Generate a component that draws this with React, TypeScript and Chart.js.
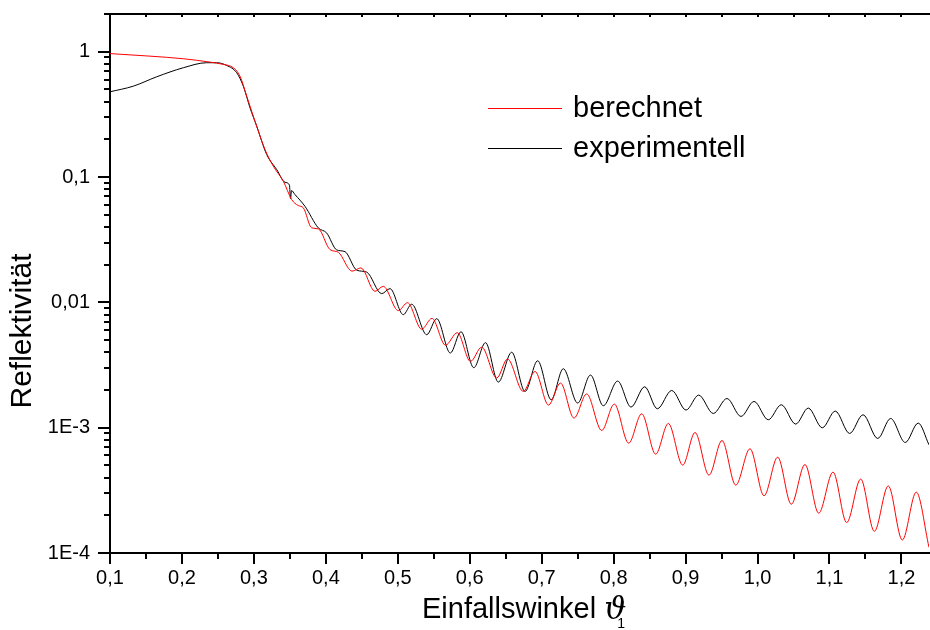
import React, { useEffect, useRef } from "react";
import { Chart, registerables } from "chart.js";
Chart.register(...registerables);

// ---- data ----
const berechnetX = [0.1, 0.1556, 0.2019, 0.239, 0.2575, 0.2714, 0.2807, 0.29, 0.3015, 0.3154, 0.327, 0.3409, 0.3525, 0.3617, 0.3687, 0.3803, 0.3895, 0.4058, 0.4173, 0.4363, 0.4488, 0.4683, 0.4798, 0.5007, 0.5135, 0.5332, 0.5475, 0.5663, 0.5827, 0.601, 0.6166, 0.6375, 0.6525, 0.6744, 0.6907, 0.7095, 0.7261, 0.7449, 0.7625, 0.7834, 0.8009, 0.8209, 0.839, 0.8584, 0.876, 0.896, 0.9131, 0.9325, 0.9506, 0.9697, 0.9895, 1.009, 1.028, 1.0469, 1.0659, 1.085, 1.1049, 1.1239, 1.1434, 1.1623, 1.1817, 1.2012, 1.2206, 1.2383];
const berechnetY = [0.966, 0.922, 0.879, 0.826, 0.792, 0.745, 0.638, 0.442, 0.279, 0.166, 0.122, 0.0926, 0.0661, 0.0592, 0.0568, 0.0393, 0.0386, 0.02636, 0.0251, 0.01775, 0.01883, 0.01224, 0.01342, 0.00859, 0.00994, 0.00611, 0.00745, 0.00455, 0.00573, 0.00338, 0.00439, 0.00249, 0.00353, 0.001946, 0.00281, 0.001515, 0.00227, 0.001193, 0.001859, 0.00095, 0.001543, 0.000753, 0.001291, 0.000615, 0.00108, 0.000503, 0.000915, 0.000418, 0.00079, 0.000348, 0.000679, 0.000286, 0.000582, 0.000245, 0.000508, 0.000208, 0.000442, 0.000175, 0.000389, 0.000149, 0.000343, 0.000127, 0.000306, 0.000111];

const experimentellX = [0.1, 0.1324, 0.1649, 0.2019, 0.2344, 0.2483, 0.2622, 0.2761, 0.2853, 0.2946, 0.3039, 0.3178, 0.3317, 0.3432, 0.3494, 0.3509, 0.3523, 0.3571, 0.371, 0.3895, 0.4011, 0.4151, 0.4266, 0.4429, 0.4568, 0.4776, 0.4892, 0.5076, 0.5193, 0.5402, 0.5541, 0.573, 0.5878, 0.6056, 0.6219, 0.6397, 0.6583, 0.6768, 0.6944, 0.7132, 0.73, 0.75, 0.7678, 0.7856, 0.8056, 0.8241, 0.8431, 0.8607, 0.8807, 0.9006, 0.9182, 0.9385, 0.9575, 0.977, 0.9951, 1.0149, 1.033, 1.053, 1.0705, 1.09, 1.108, 1.128, 1.1466, 1.167, 1.185, 1.2053, 1.2233, 1.2383];
const experimentellY = [0.479, 0.531, 0.631, 0.745, 0.817, 0.817, 0.777, 0.68, 0.531, 0.357, 0.2545, 0.1512, 0.1148, 0.0909, 0.0863, 0.0673, 0.078, 0.0725, 0.0584, 0.0393, 0.0358, 0.0262, 0.0254, 0.01808, 0.01743, 0.01174, 0.01287, 0.00798, 0.00967, 0.00552, 0.00741, 0.00394, 0.00583, 0.00301, 0.00477, 0.00231, 0.004, 0.001946, 0.00342, 0.00167, 0.002954, 0.001572, 0.00263, 0.001496, 0.002356, 0.00146, 0.00212, 0.001415, 0.001982, 0.001382, 0.00182, 0.001298, 0.00171, 0.001229, 0.00162, 0.001156, 0.001524, 0.001068, 0.001434, 0.000998, 0.001357, 0.000899, 0.001268, 0.00082, 0.001185, 0.000762, 0.001088, 0.00073];

const xMajorTicks = [0.1, 0.2, 0.3, 0.4, 0.5, 0.6, 0.7, 0.8, 0.9, 1.0, 1.1, 1.2];
const xMinorTicks = [0.15, 0.25, 0.35, 0.45, 0.55, 0.65, 0.75, 0.85, 0.95, 1.05, 1.15];
const yMajorTicks = [1e-4, 1e-3, 1e-2, 1e-1, 1];
const yTickLabels = ["1E-4", "1E-3", "0,01", "0,1", "1"];
const seriesNames = ["berechnet", "experimentell"];

const X_MIN = 0.1;
const X_MAX = 1.2383;
const Y_MIN = 1e-4;
const Y_MAX = 2;

const FONT = "'Liberation Sans', Arial, sans-serif";

const decorPlugin = {
  id: "decor",
  afterDraw(chart: any) {
    const ctx = chart.ctx;
    const area = chart.chartArea;
    const xs = chart.scales.x;
    const ys = chart.scales.y;
    ctx.save();
    ctx.strokeStyle = "#000";
    ctx.fillStyle = "#000";
    ctx.lineWidth = 2;
    // top frame line
    ctx.beginPath();
    ctx.moveTo(area.left - 1, area.top);
    ctx.lineTo(chart.width, area.top);
    ctx.stroke();
    // top small ticks
    const topTicks = [...xMajorTicks, ...xMinorTicks];
    topTicks.forEach((v) => {
      const px = Math.round(xs.getPixelForValue(v));
      ctx.beginPath();
      ctx.moveTo(px, area.top);
      ctx.lineTo(px, area.top + 3);
      ctx.stroke();
    });
    // bottom ticks
    xMajorTicks.forEach((v) => {
      const px = Math.round(xs.getPixelForValue(v));
      ctx.beginPath();
      ctx.moveTo(px, area.bottom);
      ctx.lineTo(px, area.bottom + 11);
      ctx.stroke();
    });
    xMinorTicks.forEach((v) => {
      const px = Math.round(xs.getPixelForValue(v));
      ctx.beginPath();
      ctx.moveTo(px, area.bottom);
      ctx.lineTo(px, area.bottom + 6);
      ctx.stroke();
    });
    // left ticks
    yMajorTicks.forEach((d) => {
      const py = Math.round(ys.getPixelForValue(d));
      ctx.beginPath();
      ctx.moveTo(area.left - 12, py);
      ctx.lineTo(area.left, py);
      ctx.stroke();
      for (let m = 2; m <= 9; m++) {
        const v = m * d;
        if (v > Y_MAX) break;
        const pm = Math.round(ys.getPixelForValue(v));
        ctx.beginPath();
        ctx.moveTo(area.left - 6, pm);
        ctx.lineTo(area.left, pm);
        ctx.stroke();
      }
    });
    // y title
    ctx.save();
    ctx.translate(23, 331);
    ctx.rotate(-Math.PI / 2);
    ctx.font = `30px ${FONT}`;
    ctx.textAlign = "center";
    ctx.textBaseline = "middle";
    ctx.fillText("Reflektivität", 0, 0);
    ctx.restore();
    // x title
    ctx.font = `29px ${FONT}`;
    ctx.textAlign = "left";
    ctx.textBaseline = "alphabetic";
    const t = "Einfallswinkel ";
    const tx = 422;
    const ty = 618;
    ctx.fillText(t, tx, ty);
    const w = ctx.measureText(t).width;
    ctx.font = `italic 31px 'DejaVu Serif', serif`;
    ctx.fillText("\u03D1", tx + w, ty + 1);
    const w2 = ctx.measureText("\u03D1").width;
    ctx.font = `14px ${FONT}`;
    ctx.fillText("1", tx + w + w2 - 9, ty + 10);
    // legend
    const legendY = [108, 148];
    const legendColors = ["#ff0000", "#000000"];
    ctx.lineWidth = 1;
    legendY.forEach((ly, i) => {
      ctx.strokeStyle = legendColors[i];
      ctx.beginPath();
      ctx.moveTo(488, ly + 0.5);
      ctx.lineTo(562, ly + 0.5);
      ctx.stroke();
      ctx.font = `29px ${FONT}`;
      ctx.fillStyle = "#000";
      ctx.textBaseline = "middle";
      ctx.fillText(seriesNames[i], 573, ly + 1);
    });
    ctx.restore();
  },
};

export default function App() {
  const ref = useRef<HTMLCanvasElement | null>(null);
  useEffect(() => {
    const canvas = ref.current;
    if (!canvas) return;
    const chart = new Chart(canvas, {
      type: "line",
      data: {
        datasets: [
          {
            label: seriesNames[0],
            data: berechnetX.map((x, i) => ({ x, y: berechnetY[i] })),
            borderColor: "#ff0000",
            borderWidth: 1,
            pointRadius: 0,
            cubicInterpolationMode: "monotone",
            fill: false,
          },
          {
            label: seriesNames[1],
            data: experimentellX.map((x, i) => ({ x, y: experimentellY[i] })),
            borderColor: "#000000",
            borderWidth: 1,
            pointRadius: 0,
            cubicInterpolationMode: "monotone",
            fill: false,
          },
        ],
      },
      options: {
        responsive: false,
        animation: false,
        events: [],
        layout: { padding: { top: 14, right: 1, left: 0, bottom: 0 } },
        plugins: { legend: { display: false }, tooltip: { enabled: false } },
        scales: {
          x: {
            type: "linear",
            min: X_MIN,
            max: X_MAX,
            grid: { display: false, drawTicks: false },
            border: { display: true, color: "#000", width: 2 },
            afterBuildTicks: (s: any) => {
              s.ticks = xMajorTicks.map((v) => ({ value: v }));
            },
            afterFit: (s: any) => {
              s.height = 77;
              s.paddingLeft = 0;
              s.paddingRight = 0;
            },
            ticks: {
              autoSkip: false,
              maxRotation: 0,
              padding: 13,
              color: "#000",
              font: { family: FONT, size: 20 },
              callback: (v: any) => Number(v).toFixed(1).replace(".", ","),
            },
          },
          y: {
            type: "logarithmic",
            min: Y_MIN,
            max: Y_MAX,
            grid: { display: false, drawTicks: false },
            border: { display: true, color: "#000", width: 2 },
            afterBuildTicks: (s: any) => {
              s.ticks = yMajorTicks.map((v) => ({ value: v }));
            },
            afterFit: (s: any) => {
              s.width = 110;
              s.paddingTop = 0;
              s.paddingBottom = 0;
            },
            ticks: {
              autoSkip: false,
              padding: 20,
              color: "#000",
              font: { family: FONT, size: 20 },
              callback: (v: any) => {
                const idx = yMajorTicks.findIndex((m) => Math.abs(Math.log10(m) - Math.log10(Number(v))) < 1e-6);
                return idx >= 0 ? yTickLabels[idx] : "";
              },
            },
          },
        },
      },
      plugins: [decorPlugin],
    } as any);
    return () => chart.destroy();
  }, []);
  return (
    <div style={{ position: "absolute", left: 0, top: 0, width: 930, height: 630, background: "#fff" }}>
      <canvas ref={ref} width={930} height={630} />
    </div>
  );
}
